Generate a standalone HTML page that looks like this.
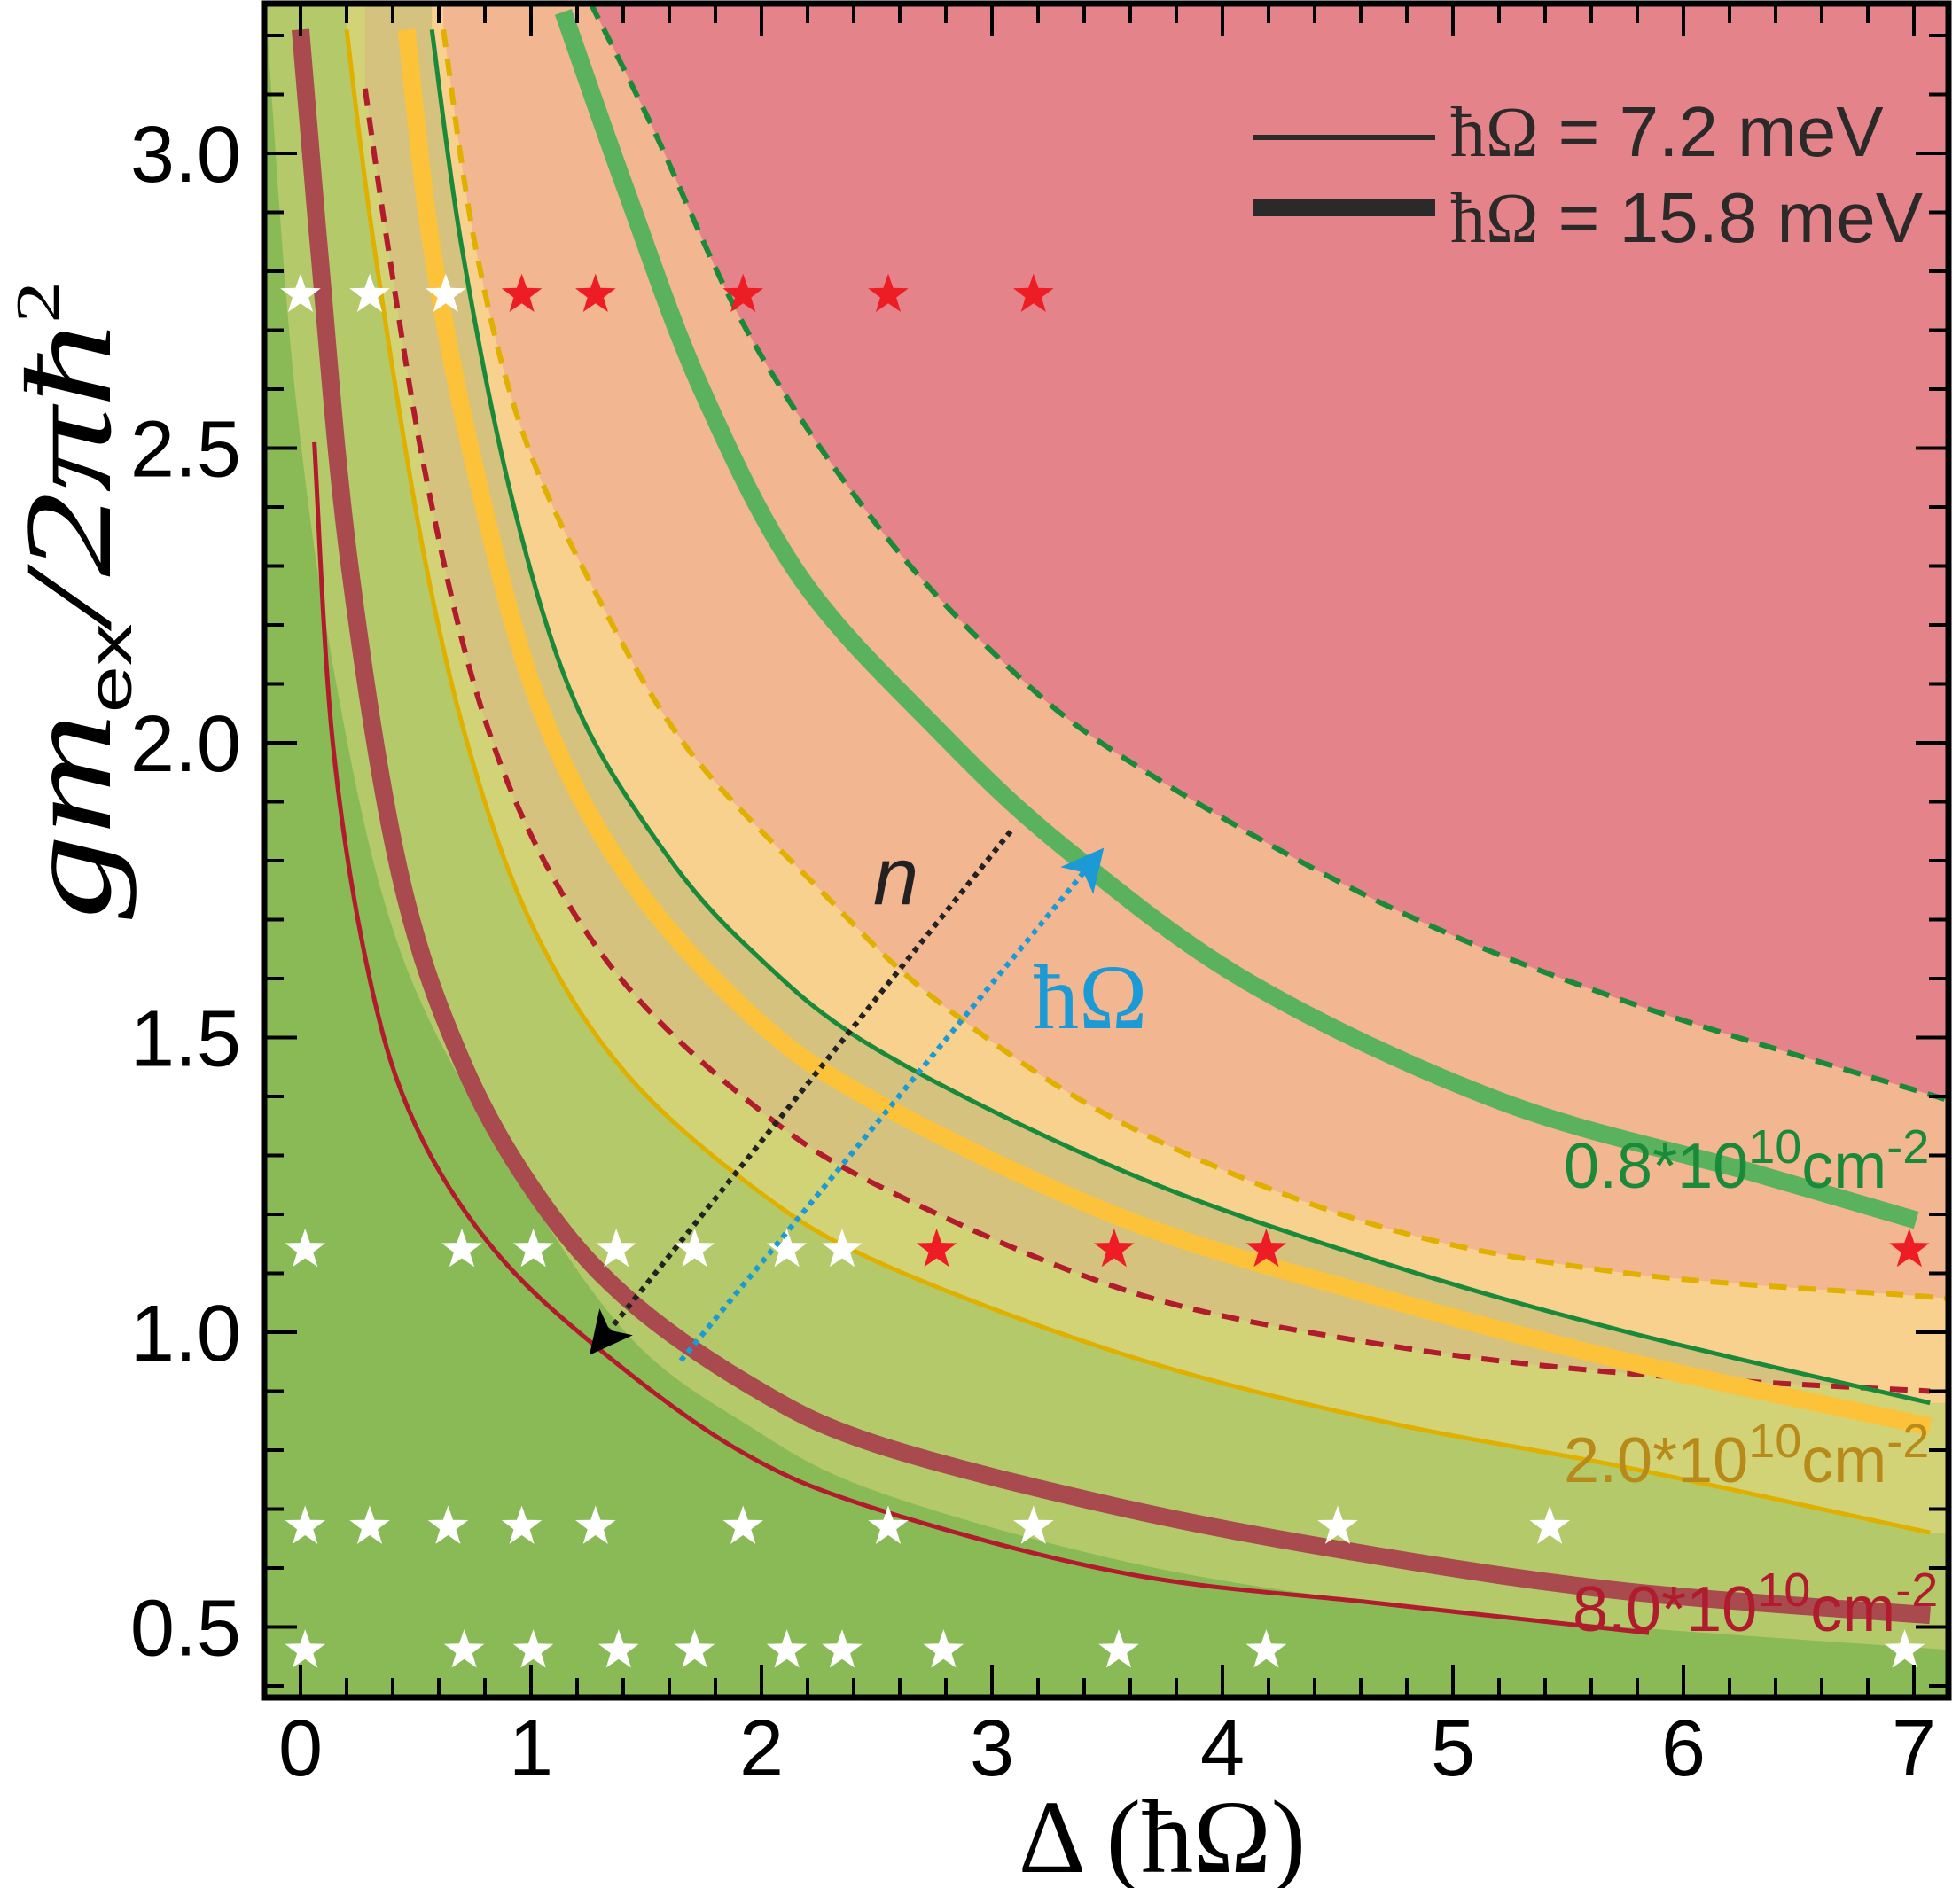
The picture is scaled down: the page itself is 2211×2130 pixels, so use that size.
<!DOCTYPE html>
<html><head><meta charset="utf-8"><style>
html,body{margin:0;padding:0;background:#fff}
svg{display:block}
</style></head><body>
<svg id="chart" width="2211" height="2130" viewBox="0 0 2211 2130" xmlns="http://www.w3.org/2000/svg">
<defs><clipPath id="plotclip"><rect x="298" y="4" width="1900" height="1911"/></clipPath></defs>
<g id="fills" clip-path="url(#plotclip)"></g>
<g id="lines" clip-path="url(#plotclip)"></g>
<g id="stars"></g>
<g id="axes"></g>
<g id="annot"></g>
</svg>
<script>
// ---- data ----
const boundX = [-0.16,-0.03,0.16,0.43,0.87,1.41,1.95,2.5,3.59,4.68,5.76,7.2];
const boundY = [3.3,2.62,2.09,1.65,1.31,1.0,0.84,0.73,0.61,0.54,0.5,0.46];
const redThinX = [0.06,0.14,0.30,0.50,0.84,1.3,1.9,2.5,3.59,4.68,5.85];
const redThinY = [2.51,2.0,1.6,1.35,1.14,0.97,0.80,0.70,0.59,0.54,0.49];
const redThickX = [0,0.08,0.21,0.43,0.70,1.03,1.41,1.95,2.5,3.59,4.68,5.76,7.07];
const redThickY = [3.21,2.84,2.31,1.78,1.46,1.23,1.06,0.91,0.81,0.70,0.62,0.56,0.52];
const yelThinX = [0.2,0.32,0.54,0.76,1.03,1.41,1.95,2.5,3.59,4.68,5.76,7.07];
const yelThinY = [3.21,2.84,2.31,1.95,1.67,1.44,1.25,1.12,0.96,0.85,0.77,0.66];
const redDashX = [0.28,0.38,0.54,0.76,1.03,1.41,1.95,2.5,3.59,4.68,5.76,7.07];
const redDashY = [3.11,2.84,2.46,2.09,1.82,1.59,1.39,1.25,1.07,0.98,0.93,0.90];
const yelThickX = [0.46,0.57,0.76,1.03,1.41,1.95,2.5,3.59,4.68,5.76,7.07];
const yelThickY = [3.21,2.84,2.46,2.07,1.78,1.54,1.39,1.19,1.06,0.95,0.84];
const grnThinX = [0.57,0.70,0.92,1.19,1.57,1.95,2.5,3.59,4.68,5.76,7.07];
const grnThinY = [3.21,2.84,2.41,2.07,1.82,1.65,1.48,1.27,1.12,1.0,0.88];
const yelDashX = [0.62,0.76,0.97,1.30,1.68,2.23,2.77,3.59,4.68,5.76,7.07,7.3];
const yelDashY = [3.21,2.84,2.52,2.24,1.99,1.76,1.56,1.35,1.18,1.10,1.06,1.05];
const grnThickX = [1.14,1.41,1.74,2.17,2.77,3.32,4.13,5.22,6.31,7.01];
const grnThickY = [3.24,2.94,2.60,2.28,2.02,1.82,1.59,1.39,1.27,1.19];
const grnDashX = [1.2,1.52,1.95,2.5,3.04,3.59,4.68,5.76,7.18,7.3];
const grnDashY = [3.3,3.05,2.69,2.37,2.14,1.97,1.73,1.56,1.39,1.37];
const whiteStarX = [0,0.30,0.63, 0.02,0.70,1.01,1.37,1.71,2.11,2.35, 0.02,0.30,0.64,0.96,1.28,1.92,2.55,3.18,4.50,5.42, 0.02,0.71,1.01,1.38,1.71,2.11,2.35,2.79,3.55,4.19,6.96];
const whiteStarY = [2.76,2.76,2.76, 1.14,1.14,1.14,1.14,1.14,1.14,1.14, 0.67,0.67,0.67,0.67,0.67,0.67,0.67,0.67,0.67,0.67, 0.46,0.46,0.46,0.46,0.46,0.46,0.46,0.46,0.46,0.46,0.46];
const redStarX = [0.96,1.28,1.92,2.55,3.18, 2.76,3.53,4.19,6.98];
const redStarY = [2.76,2.76,2.76,2.76,2.76, 1.14,1.14,1.14,1.14];
const xTicks = [0,1,2,3,4,5,6,7];
const yTicks = [0.5,1.0,1.5,2.0,2.5,3.0];
const yTickLabels = ["0.5","1.0","1.5","2.0","2.5","3.0"];

// ---- axes functions ----
const X = v => 339 + v*260;
const Y = v => 173 + (3 - v)*665;
const L=298,R=2198,T=4,B=1915;
const NS='http://www.w3.org/2000/svg';
function mk(tag, attrs, parent){const e=document.createElementNS(NS,tag);for(const k in attrs)e.setAttribute(k,attrs[k]);parent.appendChild(e);return e;}
function smooth(xs, ys){
  const p = xs.map((x,i)=>[X(x),Y(ys[i])]);
  let d = `M${p[0][0]},${p[0][1]}`;
  for(let i=0;i<p.length-1;i++){
    const p0=p[Math.max(i-1,0)],p1=p[i],p2=p[i+1],p3=p[Math.min(i+2,p.length-1)];
    const c1=[p1[0]+(p2[0]-p0[0])/6,p1[1]+(p2[1]-p0[1])/6];
    const c2=[p2[0]-(p3[0]-p1[0])/6,p2[1]-(p3[1]-p1[1])/6];
    d+=` C${c1[0]},${c1[1]} ${c2[0]},${c2[1]} ${p2[0]},${p2[1]}`;
  }
  return d;
}
function fillAbove(xs, ys){
  const fx=X(xs[0]), lx=X(xs[xs.length-1]), ly=Y(ys[ys.length-1]);
  return `M${fx},-50 L${fx},${Y(ys[0])} `+smooth(xs,ys).replace(/^M[^ ]+/,'')+` L${lx+300},${ly} L${lx+300},-50 Z`;
}
const fills=document.getElementById('fills');
const bg=mk('rect',{x:L,y:T,width:R-L,height:B-T,fill:'#8aba55'},fills);


const layers=[[boundX,boundY,'#b4c96a','region-light-green'],[yelThinX,yelThinY,'#d2d276','region-yellow-green'],[redDashX,redDashY,'#d5c27e','region-tan'],[grnThinX,grnThinY,'#f8d18e','region-light-orange'],[yelDashX,yelDashY,'#f2b690','region-salmon'],[grnDashX,grnDashY,'#e5838a','region-pink']];
layers.forEach(l=>{
  const e=mk('path',{d:fillAbove(l[0],l[1]),fill:l[2]},fills);
  
  
});
const lines=document.getElementById('lines');
const curves=[
 [redThinX,redThinY,'#b01c2e',5,null,'curve-8e10-7meV'],
 [redThickX,redThickY,'#a84a4e',20,null,'curve-8e10-16meV'],
 [yelThinX,yelThinY,'#e0b000',5,null,'curve-2e10-7meV'],
 [redDashX,redDashY,'#b01c2e',6,'20 13','curve-8e10-dashed'],
 [yelThickX,yelThickY,'#fcc33a',20,null,'curve-2e10-16meV'],
 [grnThinX,grnThinY,'#1a8a3a',5,null,'curve-0.8e10-7meV'],
 [yelDashX,yelDashY,'#e0b000',6,'20 13','curve-2e10-dashed'],
 [grnThickX,grnThickY,'#5ab25f',20,null,'curve-0.8e10-16meV'],
 [grnDashX,grnDashY,'#1a8a3a',6,'20 13','curve-0.8e10-dashed']
];
curves.forEach(c=>{
  const a={d:smooth(c[0],c[1]),fill:'none',stroke:c[2],'stroke-width':c[3]};
  if(c[4])a['stroke-dasharray']=c[4];
  const e=mk('path',a,lines);
  
  
});
function star(cx,cy,r){let pts=[];for(let i=0;i<10;i++){const rr=i%2?r*0.4:r;const a=-Math.PI/2+i*Math.PI/5;pts.push((cx+rr*Math.cos(a)).toFixed(1)+','+(cy+rr*Math.sin(a)).toFixed(1));}return pts.join(' ');}
const sg=document.getElementById('stars');
whiteStarX.forEach((x,i)=>{const e=mk('polygon',{points:star(X(x),Y(whiteStarY[i]),24),fill:'#fff'},sg);

});
redStarX.forEach((x,i)=>{const e=mk('polygon',{points:star(X(x),Y(redStarY[i]),24),fill:'#ee1c24'},sg);

});
// axes
const ax=document.getElementById('axes');
for(let v=-0.2;v<=7.2;v+=0.2){const vv=Math.round(v*10)/10;const x=X(vv);if(x<L||x>R)continue;const maj=Math.abs(vv-Math.round(vv))<1e-6;const len=maj?37:22;
 mk('line',{x1:x,y1:B,x2:x,y2:B-len,stroke:'#000','stroke-width':4},ax);
 mk('line',{x1:x,y1:T,x2:x,y2:T+len,stroke:'#000','stroke-width':4},ax);}
for(let v=0.4;v<=3.3;v+=0.1){const vv=Math.round(v*10)/10;const y=Y(vv);if(y<T||y>B)continue;const maj=Math.abs(vv*2-Math.round(vv*2))<1e-6;const len=maj?37:22;
 mk('line',{x1:L,y1:y,x2:L+len,y2:y,stroke:'#000','stroke-width':4},ax);
 mk('line',{x1:R,y1:y,x2:R-len,y2:y,stroke:'#000','stroke-width':4},ax);}
const frame=mk('rect',{x:L,y:T,width:R-L,height:B-T,fill:'none',stroke:'#000','stroke-width':7},ax);


xTicks.forEach(v=>{const t=mk('text',{x:X(v),y:2003,'text-anchor':'middle','font-family':'Liberation Sans, sans-serif','font-size':90,fill:'#000'},ax);t.textContent=v;

});
yTicks.forEach((v,i)=>{const t=mk('text',{x:272,y:Y(v)+32,'text-anchor':'end','font-family':'Liberation Sans, sans-serif','font-size':90,fill:'#000'},ax);t.textContent=yTickLabels[i];

});
</script>
<svg style="position:absolute;left:0;top:0" width="2211" height="2130" viewBox="0 0 2211 2130" xmlns="http://www.w3.org/2000/svg">
<defs>
<marker id="ah-black" markerWidth="8" markerHeight="8" refX="4" refY="4" orient="auto" markerUnits="strokeWidth"><path d="M0,0 L8,4 L0,8 L2,4 Z" fill="#000"/></marker>
<marker id="ah-blue" markerWidth="8" markerHeight="8" refX="4" refY="4" orient="auto" markerUnits="strokeWidth"><path d="M0,0 L8,4 L0,8 L2,4 Z" fill="#1b9ad6"/></marker>
</defs>
<line x1="1140" y1="938" x2="680" y2="1510" stroke="#222" stroke-width="6" stroke-dasharray="6 6" marker-end="url(#ah-black)"/>
<line x1="768" y1="1535" x2="1230" y2="975" stroke="#1b9ad6" stroke-width="6" stroke-dasharray="6 6" marker-end="url(#ah-blue)"/>
<text x="985" y="1020" font-family="Liberation Sans, sans-serif" font-style="italic" font-size="92" fill="#222">n</text>
<text x="1165" y="1160" font-family="Liberation Serif, serif" font-size="104" fill="#1b9ad6">ħΩ</text>
<line x1="1414" y1="155" x2="1619" y2="155" stroke="#2b2a28" stroke-width="6"/>
<line x1="1414" y1="234" x2="1619" y2="234" stroke="#2b2a28" stroke-width="20"/>
<text x="1636" y="176" font-family="Liberation Sans, sans-serif" font-size="80" fill="#2b2a28"><tspan font-family="Liberation Serif, serif">ħΩ</tspan> = 7.2 meV</text>
<text x="1636" y="273" font-family="Liberation Sans, sans-serif" font-size="80" fill="#2b2a28"><tspan font-family="Liberation Serif, serif">ħΩ</tspan> = 15.8 meV</text>
<text x="1764" y="1340" font-family="Liberation Sans, sans-serif" font-size="72" fill="#1a8a3a">0.8*10<tspan dy="-28" font-size="54">10</tspan><tspan dy="28">cm</tspan><tspan dy="-28" font-size="54">-2</tspan></text>
<text x="1764" y="1672" font-family="Liberation Sans, sans-serif" font-size="72" fill="#b88a1a">2.0*10<tspan dy="-28" font-size="54">10</tspan><tspan dy="28">cm</tspan><tspan dy="-28" font-size="54">-2</tspan></text>
<text x="1774" y="1840" font-family="Liberation Sans, sans-serif" font-size="72" fill="#b01c2e">8.0*10<tspan dy="-28" font-size="54">10</tspan><tspan dy="28">cm</tspan><tspan dy="-28" font-size="54">-2</tspan></text>
<text x="1311" y="2112" text-anchor="middle" font-family="Liberation Serif, serif" font-size="118" fill="#000">Δ (ħΩ)</text>
<text transform="translate(124,677) rotate(-90)" x="-360" textLength="720" lengthAdjust="spacingAndGlyphs" font-family="Liberation Serif, serif" font-style="italic" font-size="140" fill="#000">gm<tspan dy="24" font-style="normal" font-family="Liberation Sans, sans-serif" font-size="70">ex</tspan><tspan dy="-24">/2πħ</tspan><tspan dy="-58" font-size="70" font-style="normal">2</tspan></text>
</svg>
</body></html>
